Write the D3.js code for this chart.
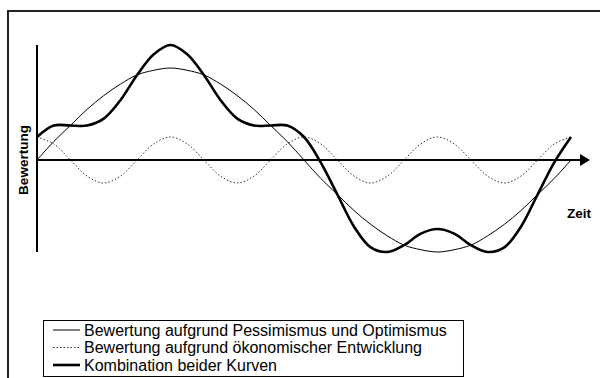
<!DOCTYPE html>
<html>
<head>
<meta charset="utf-8">
<script src="https://cdn.jsdelivr.net/npm/d3@7"></script>
<style>
  body { margin: 0; background: #fff; }
  text { font-family: "Liberation Sans", Arial, sans-serif; }
</style>
</head>
<body>
<div id="chart"></div>
<script>
// sample positions along the time axis (0..32)
var steps = d3.range(0, 33)
// pessimism / optimism cycle (thin line)
var sentiment = [0, 0.8, 1.5, 2.2, 2.8, 3.3, 3.7, 3.9, 4, 3.9, 3.7, 3.3, 2.8, 2.2, 1.5, 0.8,
  0, -0.8, -1.5, -2.2, -2.8, -3.3, -3.7, -3.9, -4, -3.9, -3.7, -3.3, -2.8, -2.2, -1.5, -0.8, 0]
// economic development cycle (dotted line)
var economy = [1, 0.7, 0, -0.7, -1, -0.7, 0, 0.7, 1, 0.7, 0, -0.7, -1, -0.7, 0, 0.7,
  1, 0.7, 0, -0.7, -1, -0.7, 0, 0.7, 1, 0.7, 0, -0.7, -1, -0.7, 0, 0.7, 1]
// combination of both (thick line)
var combined = [1, 1.5, 1.5, 1.5, 1.8, 2.6, 3.7, 4.6, 5, 4.6, 3.7, 2.6, 1.8, 1.5, 1.5, 1.5,
  1, -0.1, -1.5, -2.9, -3.8, -4.0, -3.7, -3.2, -3, -3.2, -3.7, -4.0, -3.8, -2.9, -1.5, -0.1, 1]
var legendLabels = [
  "Bewertung aufgrund Pessimismus und Optimismus",
  "Bewertung aufgrund ökonomischer Entwicklung",
  "Kombination beider Kurven"
]

var width = 600, height = 378

var svg = d3.select("#chart")
  .append("svg")
  .attr("width", width)
  .attr("height", height)

// outer frame (top + left visible)
svg.append("path")
  .attr("d", "M8,379 L8,11 L601,11")
  .attr("fill", "none")
  .attr("stroke", "#222")
  .attr("stroke-width", 2)

var x = d3.scaleLinear().domain([0, 32]).range([37, 571])
var y = d3.scaleLinear().domain([-4, 5]).range([252, 45])

// axes
svg.append("line")
  .attr("x1", x(0)).attr("x2", x(0))
  .attr("y1", y(5)).attr("y2", y(-4))
  .attr("stroke", "#000").attr("stroke-width", 2)

svg.append("line")
  .attr("x1", x(0)).attr("x2", 582)
  .attr("y1", y(0)).attr("y2", y(0))
  .attr("stroke", "#000").attr("stroke-width", 2)

svg.append("path")
  .attr("d", "M580," + (y(0) - 6) + " L590," + y(0) + " L580," + (y(0) + 6) + " Z")
  .attr("fill", "#000")

var line = function (vals) {
  return d3.line()
    .x(function (d, i) { return x(steps[i]); })
    .y(function (d) { return y(d); })
    .curve(d3.curveCatmullRom.alpha(0.5))(vals)
}

var series = [
  { vals: sentiment, w: 1, dash: null, color: "#000" },
  { vals: economy, w: 1, dash: "1.5,2", color: "#333" },
  { vals: combined, w: 2.6, dash: null, color: "#000" }
]

series.forEach(function (s) {
  svg.append("path")
    .attr("d", line(s.vals))
    .attr("fill", "none")
    .attr("stroke", s.color)
    .attr("stroke-width", s.w)
    .attr("stroke-dasharray", s.dash)
})

// axis labels
svg.append("text")
  .attr("transform", "translate(28," + y(0) + ") rotate(-90)")
  .attr("text-anchor", "middle")
  .attr("font-size", 13.5)
  .attr("font-weight", "bold")
  .text("Bewertung")

svg.append("text")
  .attr("x", 567).attr("y", 218)
  .attr("font-size", 13.5)
  .attr("font-weight", "bold")
  .text("Zeit")

// legend
var legend = svg.append("g")
legend.append("rect")
  .attr("x", 43.5).attr("y", 320.5)
  .attr("width", 420).attr("height", 56)
  .attr("fill", "#fff")
  .attr("stroke", "#000")
  .attr("stroke-width", 1)

series.forEach(function (s, i) {
  var ly = 330 + i * 17.5
  legend.append("line")
    .attr("x1", 53).attr("x2", 80)
    .attr("y1", ly).attr("y2", ly)
    .attr("stroke", s.color)
    .attr("stroke-width", s.w)
    .attr("stroke-dasharray", s.dash)
  legend.append("text")
    .attr("x", 84).attr("y", ly + 5.5)
    .attr("font-size", 16)
    .text(legendLabels[i])
})
</script>
</body>
</html>
